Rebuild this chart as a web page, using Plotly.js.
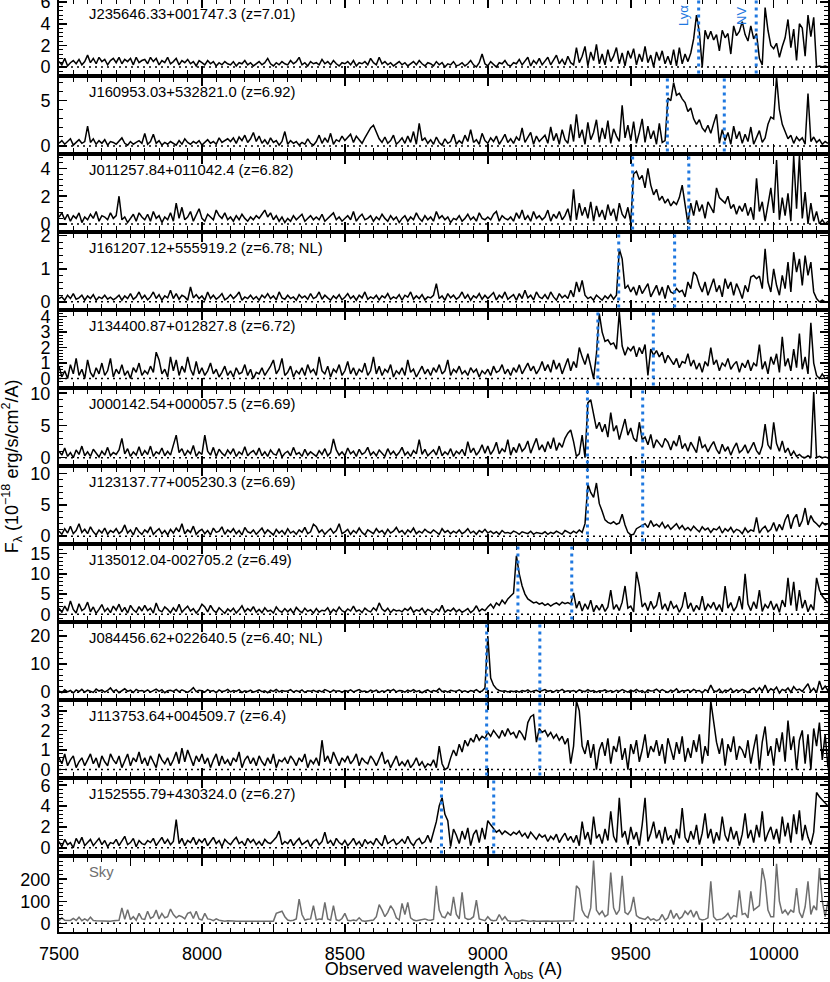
<!DOCTYPE html>
<html>
<head>
<meta charset="utf-8">
<script src="https://cdn.plot.ly/plotly-3.0.1.min.js"></script>
<style>
  body { margin: 0; background: white; }
  #chart { width: 830px; height: 982px; }
</style>
</head>
<body>
<div id="chart"></div>
<script>
// wavelength grid: 7500..10190 A, 10 A bins
const lamStart = 7500;
const lamStep = 10;

const labels = [
  "J235646.33+001747.3 (z=7.01)",
  "J160953.03+532821.0 (z=6.92)",
  "J011257.84+011042.4 (z=6.82)",
  "J161207.12+555919.2 (z=6.78; NL)",
  "J134400.87+012827.8 (z=6.72)",
  "J000142.54+000057.5 (z=6.69)",
  "J123137.77+005230.3 (z=6.69)",
  "J135012.04-002705.2 (z=6.49)",
  "J084456.62+022640.5 (z=6.40; NL)",
  "J113753.64+004509.7 (z=6.4)",
  "J152555.79+430324.0 (z=6.27)"
];
const redshifts = [7.01, 6.92, 6.82, 6.78, 6.72, 6.69, 6.69, 6.49, 6.40, 6.40, 6.27];
const xTickVals = [7500, 7750, 8000, 8250, 8500, 8750, 9000, 9250, 9500, 9750, 10000];
const xTickText = ["7500", "", "8000", "", "8500", "", "9000", "", "9500", "", "10000"];

// fluxes, 10^-18 erg/s/cm2/A, one row = 100 A
const flux1 = [
  0.5,0.2,0.8,0.1,0.4,0.6,0.3,0.7,0.2,0.5,
  1.1,0.4,0.8,0.3,0.9,0.5,0.7,0.2,0.6,0.8,
  0.4,0.9,0.3,0.7,0.5,0.8,0.2,0.9,0.4,0.6,
  0.7,0.3,0.9,0.5,0.8,0.2,0.6,0.4,0.9,0.3,
  0.5,0.8,0.2,0.6,0.4,0.7,0.3,0.5,0.1,0.6,
  0.4,0.2,0.6,0.3,0.5,0.1,0.4,0.2,0.5,0.3,
  0.2,0.5,0.1,0.4,0.3,0.6,0.2,0.4,0.1,0.3,
  0.5,0.2,0.4,0.8,0.3,0.1,0.4,0.2,0.5,0.3,
  0.2,0.6,0.3,0.5,0.9,0.2,0.4,0.1,0.5,0.3,
  0.4,0.2,0.7,0.3,0.5,0.2,0.6,0.3,0.1,0.4,
  0.3,0.5,0.2,0.6,0.1,0.4,0.3,0.5,0.2,0.8,
  0.4,0.2,0.9,0.3,0.5,0.2,0.4,0.1,0.3,0.5,
  0.2,0.4,0.1,0.3,0.5,0.2,0.6,0.3,0.1,0.4,
  0.3,0.1,0.5,0.2,0.4,0.0,0.3,0.2,0.5,0.1,
  0.2,0.4,0.1,0.3,0.6,0.2,0.0,0.4,1.2,0.3,
  0.1,0.5,0.2,0.0,0.4,0.3,0.6,0.2,0.1,0.4,
  0.3,0.7,0.2,0.5,0.9,0.1,0.6,0.3,0.8,0.2,
  0.5,0.9,0.2,0.6,1.1,0.3,0.7,0.2,1.0,0.4,
  0.2,1.8,0.4,1.0,1.9,0.1,1.4,0.6,2.1,0.3,
  1.2,0.2,1.6,0.5,1.0,1.8,0.3,1.3,0.1,1.5,
  0.8,1.7,0.2,1.2,0.5,1.9,0.4,1.1,0.0,1.4,
  0.6,1.5,0.3,1.0,0.2,1.6,0.1,1.8,0.3,1.2,
  0.5,1.3,2.6,4.8,3.2,0.0,3.4,2.6,3.3,2.5,
  3.0,1.5,3.4,2.7,3.1,1.2,3.8,2.9,3.3,4.2,
  3.0,2.4,3.8,2.6,3.1,0.8,0.2,5.5,3.4,2.0,
  1.7,2.2,0.9,1.9,2.7,4.4,1.8,3.5,0.6,4.0,
  3.6,1.0,4.8,2.8,4.6,0.0,0.1,0.0,0.1,0.0
];
const flux2 = [
  0.3,0.6,0.2,0.5,0.8,0.1,0.4,0.7,0.3,0.5,
  2.2,0.4,0.8,0.2,0.6,0.3,0.7,0.1,0.5,0.4,
  0.2,0.6,0.9,0.3,0.1,0.5,0.2,0.4,0.6,0.3,
  1.4,0.2,0.5,1.3,0.3,0.6,0.1,0.4,0.2,0.5,
  0.3,0.1,0.6,0.2,0.8,0.4,0.2,0.5,0.3,0.6,
  0.1,0.4,0.7,0.3,0.5,0.2,0.9,0.4,0.6,0.8,
  0.5,0.9,0.3,1.0,0.6,1.2,0.4,0.8,1.5,0.5,
  1.1,0.3,0.7,0.2,0.9,0.4,0.6,0.1,0.5,1.6,
  0.2,0.6,0.3,0.5,0.1,0.4,0.2,0.8,0.3,0.1,
  0.5,1.2,0.3,0.9,0.4,1.4,0.2,0.7,0.5,1.1,
  0.6,0.9,1.3,0.4,1.1,0.7,0.3,0.9,1.4,2.0,
  2.3,1.5,0.8,0.4,1.0,0.3,0.6,1.2,0.2,0.5,
  0.9,0.3,1.1,0.4,1.6,0.2,2.5,0.6,0.9,0.3,
  0.7,0.2,1.0,0.4,0.1,0.8,0.3,0.5,1.3,0.2,
  0.6,0.3,1.2,0.5,1.8,0.4,0.7,0.2,1.4,0.6,
  0.3,0.9,0.5,1.1,0.2,0.7,1.3,0.4,0.8,0.3,
  1.0,0.6,2.0,0.4,0.9,1.5,0.2,1.1,0.5,0.8,
  1.2,0.3,2.1,0.6,1.4,0.2,1.8,0.7,0.3,2.4,
  0.5,3.5,0.9,1.8,0.2,2.6,0.7,1.5,2.9,0.4,
  2.0,0.8,2.8,0.3,1.9,1.1,0.5,4.5,0.9,2.3,
  0.6,2.7,0.3,1.5,3.0,0.4,2.2,0.8,1.7,0.2,
  2.5,0.4,0.6,5.3,5.0,7.0,5.6,5.8,5.2,4.8,
  3.8,4.2,3.0,2.4,2.9,2.0,1.6,2.3,1.4,2.5,
  3.5,0.3,1.8,0.6,1.5,0.2,2.2,0.8,1.6,0.3,
  1.3,0.5,2.1,0.2,1.0,1.7,0.4,0.9,2.4,3.2,
  3.0,7.6,4.0,2.4,1.6,0.8,1.2,0.3,1.0,0.6,
  0.9,0.2,5.8,0.5,1.0,0.4,0.7,0.2,0.5,0.3
];
const flux3 = [
  0.5,0.8,0.3,0.7,0.2,0.6,0.4,0.8,0.1,0.5,
  0.3,0.7,0.4,0.9,0.2,0.6,0.5,0.3,0.8,0.4,
  0.6,2.0,0.3,0.5,0.1,0.4,0.7,0.2,0.8,0.5,
  0.3,0.7,0.2,0.9,0.4,0.6,0.1,0.5,0.3,0.8,
  0.2,1.5,0.4,1.2,0.3,0.5,0.9,0.2,0.6,1.1,
  0.4,0.2,0.7,0.5,0.3,1.0,0.6,0.4,0.8,0.3,
  0.5,0.2,0.6,0.3,0.7,0.4,0.2,0.5,0.3,0.6,
  0.4,0.7,1.0,0.5,0.8,0.3,0.6,0.2,0.5,0.1,
  0.4,0.2,0.6,0.3,0.5,0.7,0.2,0.4,0.6,0.3,
  0.5,0.3,0.7,0.2,0.4,0.6,0.8,0.3,0.5,0.2,
  0.4,0.6,0.3,0.9,0.2,0.5,0.7,0.3,0.4,0.6,
  0.2,0.5,0.3,0.7,0.4,0.2,0.6,0.3,0.5,0.1,
  0.4,0.6,0.2,0.5,0.3,0.8,0.4,0.2,0.6,0.3,
  0.5,0.2,0.9,0.4,0.6,0.3,0.5,0.1,0.4,0.3,
  0.6,0.2,0.4,0.7,0.3,0.5,0.2,0.8,0.4,0.3,
  0.5,0.3,0.7,0.9,0.2,0.6,0.4,0.3,0.5,0.2,
  0.8,0.4,1.0,0.3,0.6,0.2,0.9,0.4,0.6,0.3,
  0.5,1.0,0.2,0.7,0.4,0.9,0.3,0.6,1.1,0.2,
  2.5,0.3,1.5,0.6,1.2,0.4,1.6,0.2,1.3,0.5,
  1.0,0.3,1.4,0.6,1.1,0.2,1.5,0.7,0.4,1.2,
  0.1,3.6,3.8,3.2,3.5,2.6,4.0,2.8,2.1,2.5,
  1.7,2.0,1.5,1.8,1.3,1.6,1.4,1.9,2.8,1.2,
  0.0,1.5,0.6,1.7,0.9,1.4,0.4,1.6,1.2,0.8,
  2.6,1.9,1.7,1.5,2.0,1.1,1.4,0.7,1.3,0.9,
  1.5,0.6,1.2,0.3,3.3,0.9,1.6,0.2,1.4,2.6,
  0.8,4.6,0.3,1.9,0.6,2.2,0.2,4.9,1.1,4.9,
  0.4,2.3,0.0,1.5,0.2,0.9,0.0,0.3,0.0,0.2
];
const flux4 = [
  0.1,0.15,0.05,0.2,0.1,0.25,0.08,0.12,0.2,0.05,
  0.18,0.1,0.22,0.05,0.15,0.1,0.2,0.08,0.14,0.06,
  0.12,0.2,0.05,0.18,0.1,0.25,0.08,0.15,0.3,0.1,
  0.2,0.06,0.15,0.3,0.1,0.22,0.05,0.18,0.12,0.35,
  0.1,0.25,0.08,0.2,0.15,0.05,0.45,0.12,0.22,0.1,
  0.18,0.05,0.3,0.1,0.2,0.08,0.15,0.25,0.06,0.12,
  0.22,0.1,0.18,0.3,0.05,0.15,0.1,0.2,0.08,0.16,
  0.05,0.2,0.12,0.25,0.1,0.18,0.06,0.3,0.12,0.08,
  0.2,0.1,0.15,0.05,0.22,0.12,0.18,0.08,0.25,0.1,
  0.15,0.3,0.08,0.2,0.12,0.05,0.18,0.1,0.22,0.06,
  0.14,0.25,0.1,0.18,0.05,0.2,0.12,0.3,0.08,0.15,
  0.1,0.2,0.06,0.18,0.12,0.25,0.08,0.15,0.1,0.22,
  0.05,0.2,0.14,0.3,0.08,0.18,0.1,0.22,0.06,0.15,
  0.12,0.2,0.55,0.1,0.18,0.05,0.25,0.12,0.2,0.08,
  0.15,0.3,0.1,0.22,0.05,0.18,0.12,0.25,0.08,0.2,
  0.1,0.18,0.28,0.06,0.2,0.12,0.3,0.08,0.15,0.22,
  0.05,0.25,0.1,0.35,0.12,0.2,0.06,0.3,0.15,0.1,
  0.22,0.08,0.3,0.15,0.05,0.25,0.12,0.2,0.1,0.35,
  0.15,0.6,0.3,0.65,0.2,0.1,0.15,0.05,0.2,0.12,
  0.05,0.18,0.1,0.22,0.08,0.2,1.6,1.3,0.4,0.5,
  0.3,0.45,0.2,0.5,0.25,0.4,0.55,0.15,0.35,0.5,
  0.2,0.45,0.1,0.5,0.3,0.25,0.4,0.3,0.35,0.15,
  0.6,0.4,0.9,0.8,0.5,0.3,0.6,0.2,0.45,0.7,
  0.3,0.5,0.15,0.7,0.4,0.6,0.2,0.55,0.35,0.1,
  0.5,0.3,0.75,0.8,0.7,0.78,0.4,1.6,0.6,0.3,
  1.0,0.5,0.2,0.8,0.4,1.2,0.3,1.5,0.9,1.3,
  0.5,1.4,0.8,1.2,0.3,0.1,0.0,0.05,0.0,0.0
];
const flux5 = [
  0.8,0.1,0.5,0.0,0.9,0.3,1.3,0.2,0.6,0.0,
  1.2,0.4,0.1,0.7,0.3,1.0,0.2,0.5,1.3,0.1,
  0.6,0.3,0.9,0.2,0.5,0.0,0.7,0.4,1.0,0.2,
  0.5,0.3,0.8,0.4,1.7,1.2,0.3,0.6,0.1,1.4,
  0.5,1.2,0.2,0.8,0.4,1.4,0.6,0.2,1.1,0.3,
  0.7,0.2,0.5,1.0,0.3,0.6,0.1,0.4,0.8,0.2,
  0.5,0.1,0.7,0.3,0.4,0.9,0.2,0.6,0.0,0.4,
  0.3,0.7,0.2,0.5,0.8,1.2,0.3,0.6,1.3,0.2,
  0.4,0.8,0.1,0.5,0.3,0.7,0.2,0.9,0.4,0.6,
  0.2,1.4,0.5,0.3,0.8,0.1,0.6,0.4,0.9,0.2,
  0.5,1.1,0.3,0.7,0.2,0.6,0.4,1.0,0.2,0.5,
  1.4,0.3,0.8,0.2,0.6,0.4,0.9,0.1,0.5,0.3,
  0.7,0.2,1.2,0.4,0.6,0.1,0.5,0.8,0.3,0.6,
  0.2,0.7,0.4,0.9,0.3,0.5,1.2,0.2,0.6,0.4,
  0.8,0.3,0.5,0.2,0.7,0.4,0.6,0.1,0.5,0.3,
  0.6,0.2,0.8,0.4,0.5,0.9,0.3,0.6,0.2,0.7,
  0.4,0.9,0.3,0.7,1.0,0.5,0.8,0.3,0.6,1.1,
  0.5,0.9,0.4,1.2,0.6,1.0,0.3,0.8,1.3,0.5,
  1.1,0.7,2.0,1.4,0.9,1.6,0.8,0.0,1.6,4.2,
  3.0,2.4,2.5,2.2,2.3,1.9,4.3,2.1,1.5,2.0,
  1.8,2.1,1.4,2.0,1.6,2.2,0.2,1.9,1.5,1.8,
  1.4,1.7,1.0,1.5,1.2,0.9,1.3,0.7,1.1,1.0,
  1.6,0.8,1.2,0.6,1.0,0.4,1.1,0.8,2.0,0.9,
  1.2,0.5,1.0,0.8,1.3,0.6,0.9,1.1,0.4,1.0,
  0.7,1.2,0.5,1.0,0.8,2.2,0.6,1.1,0.3,1.4,
  0.9,1.6,0.4,2.7,0.8,1.3,0.5,1.9,0.7,2.9,
  0.6,1.4,0.3,3.6,1.0,0.2,0.0,0.3,0.0,0.1
];
const flux6 = [
  1.0,0.4,1.5,0.2,0.8,0.0,1.2,0.5,1.8,0.3,
  0.9,0.2,1.3,0.6,0.1,1.0,0.4,1.6,0.3,0.8,
  0.5,1.2,3.0,0.6,1.4,0.2,0.9,0.4,1.7,0.3,
  1.1,0.5,1.8,0.2,0.9,0.6,1.5,0.3,1.0,0.4,
  2.0,3.5,0.8,1.4,0.3,1.1,0.6,1.9,0.2,0.9,
  0.5,3.5,1.0,0.4,1.6,0.2,1.3,0.7,0.3,1.2,
  0.6,1.4,0.2,0.9,0.5,1.7,0.3,0.8,1.1,0.4,
  1.5,0.3,0.9,0.2,1.2,0.6,0.4,1.4,0.1,0.7,
  1.0,0.3,1.6,0.5,0.8,0.2,1.3,0.4,0.9,0.6,
  0.2,1.1,0.5,1.4,0.3,0.8,2.9,1.2,0.4,0.9,
  0.3,1.5,0.6,1.0,0.2,1.3,0.5,0.8,1.6,0.4,
  0.9,0.3,1.2,0.7,0.2,1.4,0.5,1.0,0.3,0.8,
  1.6,0.4,0.9,0.2,1.1,0.6,2.8,0.5,1.3,0.3,
  0.7,1.2,0.4,1.8,0.3,0.9,0.5,1.4,0.2,1.0,
  0.6,1.3,0.3,2.5,0.8,1.5,0.4,1.0,2.0,0.7,
  1.8,0.5,1.2,2.4,0.6,1.4,0.9,2.8,0.4,1.6,
  0.8,2.2,1.0,1.5,2.6,0.7,1.9,3.0,1.2,2.0,
  0.9,2.5,1.4,3.1,1.1,2.3,1.6,3.0,3.8,4.3,
  2.5,0.2,0.6,3.5,0.0,8.5,9.0,6.5,4.5,5.5,
  4.0,5.2,3.2,7.0,4.1,5.0,2.8,4.4,6.0,3.5,
  4.6,3.0,2.5,5.5,2.8,3.2,2.0,3.6,1.5,2.8,
  2.2,1.6,3.0,2.4,1.2,2.6,1.8,3.5,1.4,2.2,
  1.0,2.4,1.6,0.8,3.3,1.5,2.0,0.9,1.8,2.5,
  1.3,0.6,2.1,1.0,1.7,0.4,1.5,2.3,0.8,1.2,
  2.0,0.7,1.5,2.4,1.1,0.5,1.8,5.2,2.0,1.3,
  5.5,2.2,1.0,2.6,0.8,1.5,0.3,1.0,0.2,0.5,
  0.1,0.0,0.3,0.0,10.2,0.0,0.2,0.0,0.1,0.0
];
const flux7 = [
  0.8,0.3,1.2,0.5,1.6,0.4,0.9,2.0,0.6,1.1,
  0.4,1.5,0.7,0.2,1.0,0.5,1.3,0.3,0.9,0.6,
  1.2,0.4,0.8,1.8,0.5,1.0,0.2,1.4,0.7,0.3,
  1.0,0.6,1.5,0.3,0.8,1.2,0.4,0.9,0.2,1.1,
  0.5,1.3,0.7,2.0,0.4,1.0,0.6,1.6,0.3,0.8,
  1.1,0.4,0.9,0.2,1.3,0.6,0.8,1.5,0.3,1.0,
  0.6,1.2,0.4,0.9,0.2,1.4,0.7,0.5,1.0,0.3,
  0.8,1.3,0.4,1.0,0.6,0.2,1.1,0.5,0.9,0.3,
  1.2,0.5,0.8,0.3,1.0,0.6,1.4,0.4,0.7,1.9,
  1.5,0.6,1.0,0.3,0.8,1.2,0.5,0.9,2.0,0.4,
  0.7,1.1,0.3,0.9,0.5,1.3,0.6,0.2,1.0,0.7,
  0.4,1.2,0.6,0.9,0.3,1.1,0.5,0.8,1.4,0.6,
  0.9,0.3,1.0,0.6,1.3,0.4,0.8,0.5,1.1,0.7,
  0.5,1.0,0.7,0.3,1.2,0.6,0.9,0.4,0.8,0.5,
  1.0,0.4,0.7,1.2,0.5,0.8,0.3,0.9,0.6,1.1,
  0.5,0.8,0.4,0.7,0.3,0.9,0.5,0.6,0.4,0.8,
  0.6,0.3,0.7,0.5,0.4,0.8,0.3,0.6,0.5,0.4,
  0.7,0.3,0.6,0.4,0.8,0.5,0.3,0.9,0.6,0.4,
  0.8,0.5,1.0,0.6,2.0,8.3,7.0,6.2,8.5,5.2,
  4.0,2.6,2.2,2.0,2.3,1.9,2.1,3.5,1.8,0.6,
  0.2,0.3,1.2,1.5,1.7,2.0,1.4,2.5,1.6,1.9,
  1.5,2.2,1.3,1.8,1.1,1.6,2.0,1.2,1.7,1.0,
  1.4,0.9,1.6,1.1,0.7,1.5,1.0,1.3,0.6,1.2,
  1.0,1.5,0.5,1.2,0.8,1.4,0.6,1.1,0.9,0.4,
  1.3,0.6,1.0,0.8,3.0,0.5,1.2,1.6,0.7,1.1,
  2.2,0.8,1.9,1.0,2.6,3.5,1.2,2.8,3.5,1.5,
  2.5,4.5,1.8,3.3,2.4,2.0,1.5,2.2,1.8,2.0
];
const flux8 = [
  1.5,0.5,2.0,0.8,3.3,1.2,0.3,2.6,0.9,1.4,
  3.0,0.6,1.8,0.2,1.2,2.4,0.7,1.5,0.4,2.0,
  1.0,2.5,0.6,1.7,0.3,2.2,1.1,0.5,1.9,0.8,
  2.2,0.9,1.5,0.3,2.8,1.0,0.6,1.8,1.2,0.4,
  1.6,0.7,2.5,0.5,1.3,2.0,0.8,1.4,0.3,1.1,
  2.5,1.8,0.6,2.2,1.0,0.4,1.6,0.9,0.2,1.3,
  0.7,1.5,0.3,1.1,2.1,0.6,1.4,0.8,1.9,0.5,
  1.2,0.4,1.6,0.7,1.0,0.3,1.8,0.9,0.5,1.4,
  0.6,1.3,0.2,1.7,0.9,0.4,1.5,0.7,1.1,0.3,
  1.4,0.5,1.0,0.8,1.6,0.3,1.2,0.6,1.8,0.9,
  0.5,1.3,0.8,2.0,0.7,1.1,0.4,1.5,0.9,0.6,
  1.6,0.9,2.8,1.3,0.7,1.5,0.4,1.2,0.8,1.0,
  0.6,1.4,0.9,1.7,0.5,1.1,0.8,1.5,0.3,1.2,
  0.9,0.4,1.3,0.7,2.2,0.5,1.1,0.8,1.5,0.6,
  1.2,0.5,0.9,1.4,0.4,1.0,2.1,0.7,1.3,0.9,
  1.8,2.5,1.5,2.8,2.2,3.5,2.6,3.8,4.5,5.2,
  14.5,10.0,7.0,5.0,3.8,3.2,2.8,3.0,2.5,2.8,
  2.2,2.6,2.0,2.5,2.8,2.3,3.0,2.6,2.9,2.5,
  5.3,1.5,3.2,0.8,2.6,1.2,3.5,0.6,2.2,1.0,
  2.5,0.7,1.8,6.0,1.2,2.4,0.9,3.0,7.0,1.5,
  2.0,0.6,10.5,7.0,1.8,2.8,0.9,3.2,1.4,2.2,
  5.5,1.2,2.6,0.8,3.3,1.5,2.2,0.5,1.9,5.5,
  1.4,2.8,0.7,2.2,1.1,4.5,0.9,2.5,1.6,3.0,
  1.0,2.4,0.6,7.0,1.5,2.9,0.8,1.9,4.5,1.2,
  10.0,2.5,0.9,3.1,1.4,6.0,0.7,2.4,1.5,3.3,
  1.1,2.6,0.5,3.5,1.8,9.0,2.2,8.0,0.8,6.0,
  1.5,3.5,0.6,2.4,1.0,9.0,6.0,4.5,3.5,2.8
];
const flux9 = [
  0.5,-0.2,0.9,0.1,0.6,-0.3,0.8,0.2,1.0,0.0,
  0.7,0.3,-0.1,1.1,0.4,0.8,0.0,0.6,1.5,0.2,
  0.9,-0.2,0.5,1.2,0.3,0.7,-0.1,1.0,0.4,0.6,
  0.2,0.8,0.0,0.6,1.1,0.3,0.9,-0.2,0.5,0.7,
  0.3,1.0,0.1,0.8,0.4,-0.1,0.6,1.6,0.2,0.7,
  0.5,0.0,0.9,0.3,0.6,-0.2,0.8,0.2,0.4,1.0,
  0.1,0.6,0.3,0.9,-0.1,0.5,0.2,0.7,0.0,0.4,
  0.8,0.2,0.5,-0.2,0.7,0.3,1.0,0.1,0.6,0.3,
  0.4,0.9,0.0,0.6,0.2,0.8,-0.1,0.5,0.3,0.7,
  0.2,0.6,0.1,0.9,0.4,0.0,0.7,0.3,0.5,-0.1,
  0.6,0.3,0.8,0.1,0.5,0.9,0.2,0.4,0.0,0.7,
  0.3,0.7,-0.1,0.5,0.2,0.8,0.4,1.0,0.1,0.6,
  0.5,0.0,0.7,0.3,0.9,0.2,0.6,-0.2,0.4,0.8,
  0.1,0.6,0.3,1.3,0.2,0.5,0.0,0.7,0.4,0.3,
  0.8,0.2,0.5,0.0,0.6,0.3,0.9,0.1,0.4,1.5,
  20.0,5.0,2.5,1.2,0.6,0.3,0.5,0.1,0.4,0.2,
  0.5,0.0,0.6,0.3,0.8,0.1,0.4,0.7,0.2,0.5,
  0.9,0.3,0.6,0.0,0.7,0.4,1.0,0.2,0.5,0.3,
  0.6,0.1,0.8,0.4,0.2,0.9,0.3,0.6,0.0,0.5,
  0.4,0.8,0.2,0.6,0.1,0.7,0.3,0.9,0.4,0.0,
  0.7,0.3,1.0,0.2,0.6,-0.2,0.8,0.4,0.5,1.1,
  0.2,0.9,0.4,-0.1,0.7,0.3,1.2,0.0,0.6,0.4,
  0.8,0.1,1.0,0.4,0.6,-0.3,0.9,0.3,2.5,0.5,
  0.2,1.1,-0.2,0.7,0.4,1.3,0.0,0.8,0.3,1.0,
  0.5,-0.1,0.9,1.4,0.2,1.6,0.4,2.5,0.1,1.2,
  0.6,1.8,-0.3,1.0,0.5,1.5,0.0,2.0,0.7,1.1,
  0.3,1.6,3.0,0.2,1.4,-0.2,4.0,0.8,2.2,0.5
];
const flux10 = [
  0.6,0.3,0.8,0.2,0.5,0.7,0.1,0.4,0.6,0.2,
  0.5,0.8,0.3,0.6,0.1,0.7,0.4,0.2,0.8,0.5,
  0.3,0.7,0.1,0.5,0.8,0.2,0.6,0.4,0.9,0.3,
  0.6,0.2,0.7,0.4,0.1,0.8,0.5,0.3,0.6,0.2,
  0.5,0.9,0.3,1.1,0.4,1.0,0.6,0.2,0.7,0.4,
  0.8,0.3,0.6,0.1,0.5,0.8,0.2,0.7,0.3,0.5,
  0.2,0.6,0.4,0.9,0.1,0.5,0.7,0.3,0.6,0.2,
  0.7,0.4,0.2,0.6,0.3,0.8,0.1,0.5,0.4,0.6,
  0.3,0.7,0.5,0.2,0.6,0.4,0.8,0.1,0.5,0.3,
  0.6,0.2,1.5,0.4,0.7,0.3,0.9,0.5,0.2,0.6,
  0.4,0.7,0.3,0.5,0.8,0.2,0.6,0.4,0.3,0.7,
  0.5,0.2,0.6,0.9,0.3,0.5,0.1,0.4,0.7,0.2,
  0.4,0.2,0.5,0.1,0.3,0.6,0.2,0.4,0.1,0.3,
  0.2,0.5,0.1,1.2,0.3,0.0,0.1,0.6,1.0,0.7,
  1.3,0.9,1.5,1.2,1.6,1.4,1.8,1.5,1.7,1.6,
  1.9,1.7,2.0,1.8,1.6,2.0,1.7,2.1,1.8,1.9,
  1.6,2.0,1.8,1.5,2.4,2.7,2.8,1.4,2.1,1.9,
  2.0,1.7,1.9,1.6,1.8,1.5,1.7,1.3,1.6,0.3,
  1.2,3.5,3.0,1.2,0.8,1.5,0.6,1.3,0.0,1.0,
  1.4,0.7,1.6,0.3,1.2,0.9,1.7,0.5,1.1,0.0,
  1.3,0.8,1.5,0.4,1.0,1.8,0.6,1.2,0.9,1.5,
  0.7,1.3,0.3,1.6,1.0,0.5,1.4,0.8,1.7,0.4,
  1.1,0.6,1.5,0.9,1.8,0.3,1.2,0.7,3.5,2.5,
  1.4,0.8,1.6,0.2,1.3,0.9,1.7,0.5,1.2,1.0,
  0.6,1.5,0.3,1.1,1.8,0.0,1.4,2.2,0.7,1.2,
  0.2,1.6,0.9,1.9,0.4,2.5,1.0,1.7,0.0,1.5,
  2.0,0.3,1.8,0.0,2.1,1.2,2.4,0.5,1.8,0.1
];
const flux11 = [
  0.6,0.1,0.8,0.3,0.5,0.0,0.9,0.4,1.0,0.2,
  0.5,0.8,0.2,0.6,0.9,0.3,0.7,0.1,0.5,0.4,
  0.8,0.2,0.6,1.1,0.3,0.5,0.9,0.1,0.7,0.4,
  0.3,0.7,0.5,0.9,0.2,0.6,1.0,0.4,0.8,0.3,
  0.6,2.7,0.4,0.9,0.2,0.7,0.5,1.0,0.3,0.8,
  0.5,0.9,0.2,0.6,1.0,0.4,0.7,0.1,0.8,0.5,
  0.3,0.7,1.0,0.4,0.6,0.2,0.9,0.5,0.8,0.3,
  0.6,0.2,0.8,0.5,0.4,0.7,1.0,1.6,0.3,0.6,
  0.4,0.8,0.2,0.6,0.9,0.3,0.5,0.7,0.1,0.6,
  0.8,0.3,0.6,1.5,0.4,0.7,0.2,0.9,0.5,0.3,
  0.7,0.2,0.5,0.9,0.3,0.6,0.1,0.8,0.4,0.6,
  0.3,0.9,0.5,0.2,1.2,0.4,0.6,0.8,0.3,0.5,
  0.8,0.4,1.1,0.5,0.2,0.7,0.9,0.4,0.6,1.2,
  0.5,1.4,2.5,4.0,4.8,3.2,2.6,0.1,1.8,1.2,
  0.4,1.6,0.8,1.9,0.2,1.3,1.7,0.5,1.9,0.8,
  2.6,2.2,1.8,1.5,1.7,1.3,1.6,1.4,1.2,1.5,
  1.3,1.6,1.1,1.4,0.9,1.5,1.2,0.8,1.3,1.0,
  1.2,0.6,1.1,0.8,1.3,0.5,1.0,1.4,0.7,1.1,
  0.5,1.2,0.2,2.5,0.8,1.5,0.3,3.0,0.9,1.3,
  0.4,1.8,0.7,3.5,1.1,0.5,4.8,1.0,1.6,0.3,
  2.0,0.8,1.5,0.2,2.2,4.8,0.6,1.4,2.5,0.9,
  1.7,0.4,2.0,0.7,1.2,0.3,1.8,0.9,3.8,1.0,
  0.5,1.6,0.8,2.2,0.3,1.4,3.3,0.9,1.8,0.4,
  1.5,0.7,3.0,1.2,0.6,2.0,0.8,1.6,0.2,1.3,
  3.3,0.9,1.7,0.5,2.2,1.0,3.5,0.6,1.4,2.0,
  0.8,1.8,0.4,3.0,1.1,2.4,0.5,3.2,1.3,3.6,
  0.7,2.2,1.0,0.3,1.5,5.3,4.9,4.6,4.3,4.0
];
// sky spectrum, arbitrary units
const sky = [
  12,25,14,12,13,22,13,28,12,20,
  12,28,13,12,11,12,10,11,10,12,
  12,14,70,18,62,16,30,14,45,20,
  18,55,22,30,60,20,45,25,30,65,
  40,25,35,30,20,45,50,22,55,20,
  15,45,20,18,12,20,14,12,10,12,
  10,11,10,10,11,10,10,11,10,10,
  10,10,11,10,10,10,45,50,55,30,
  15,12,14,20,110,40,15,18,20,80,
  15,20,18,95,20,14,80,16,12,22,
  45,14,12,15,12,25,12,10,11,12,
  15,30,85,60,30,50,80,60,25,15,
  90,40,95,25,15,12,14,18,20,15,
  14,18,170,60,30,25,50,35,120,40,
  20,140,25,18,20,30,105,20,15,12,
  30,15,12,14,40,15,30,12,11,10,
  12,10,15,12,11,10,12,10,11,10,
  10,11,10,10,12,10,11,10,12,10,
  12,170,155,60,35,25,70,285,60,40,
  55,30,40,230,70,40,60,215,50,40,
  60,120,35,25,20,18,30,15,20,12,
  18,40,15,25,60,22,45,20,30,55,
  40,60,28,55,20,15,18,25,190,30,
  15,18,20,30,45,20,35,30,150,40,
  45,25,145,60,70,80,250,190,60,30,
  30,270,100,45,60,40,60,50,160,50,
  25,75,190,40,80,60,250,100,30,100
];

const fluxes = [flux1, flux2, flux3, flux4, flux5, flux6, flux7, flux8, flux9, flux10, flux11];
const wave = sky.map((_, i) => lamStart + i * lamStep);

// per-panel y axis ranges and tick steps
const yRanges = [[-0.6, 6.2], [-0.6, 7.5], [-0.4, 4.9], [-0.17, 2.05], [-0.45, 4.3], [-0.9, 10.5],
                 [-0.85, 10.9], [-1.3, 16.9], [-1.9, 24.3], [-0.3, 3.45], [-0.55, 6.5], [-37, 296]];
const yDticks = [2, 5, 2, 1, 1, 5, 5, 5, 10, 1, 2, 100];

const FONT = "Liberation Sans, Arial, sans-serif";
const BLUE = "#1f78e0";
const nPanels = 12;
const H = 932, panelH = 73.5, pitch = 78;

const traces = [];
const shapes = [];
const annotations = [];
const layout = {
  width: 830, height: 982,
  margin: { l: 59, r: 2, t: 0, b: 50 },
  paper_bgcolor: "white", plot_bgcolor: "white",
  showlegend: false,
  font: { family: FONT, color: "black", size: 18 }
};

for (let i = 0; i < nPanels; i++) {
  const k = i + 1;
  const xn = k === 1 ? "x" : "x" + k;
  const yn = k === 1 ? "y" : "y" + k;
  const xa = k === 1 ? "xaxis" : "xaxis" + k;
  const ya = k === 1 ? "yaxis" : "yaxis" + k;
  const isSky = i === nPanels - 1;

  traces.push({
    x: wave, y: isSky ? sky : fluxes[i],
    xaxis: xn, yaxis: yn,
    type: "scatter", mode: "lines",
    line: { color: isSky ? "#6e6e6e" : "black", width: 1.5 },
    hoverinfo: "skip"
  });

  const top = i * pitch, bot = top + panelH;
  layout[xa] = {
    range: [7500, 10190], anchor: yn, domain: [0, 1],
    tickmode: "array", tickvals: xTickVals, ticktext: xTickText,
    ticks: "inside", ticklen: 8, tickwidth: 1.5, tickcolor: "black",
    minor: { ticks: "inside", ticklen: 4, tickwidth: 1, tickcolor: "black", dtick: 50, tick0: 7500 },
    showline: true, linewidth: 2, linecolor: "black", mirror: "allticks",
    showgrid: false, zeroline: false,
    showticklabels: isSky, tickfont: { size: 18 }
  };
  if (k > 1) layout[xa].matches = "x";
  if (isSky) {
    layout[xa].ticklabelstandoff = 5;
    layout[xa].title = { text: "Observed wavelength λ<sub>obs</sub> (A)", font: { size: 18 }, standoff: 0 };
  }

  layout[ya] = {
    range: yRanges[i], anchor: xn,
    domain: [1 - bot / H, 1 - top / H],
    tick0: 0, dtick: yDticks[i],
    ticks: "inside", ticklen: 8, tickwidth: 1.5, tickcolor: "black",
    minor: { ticks: "inside", ticklen: 4, tickwidth: 1, tickcolor: "black", dtick: yDticks[i] / 5 },
    showline: true, linewidth: 2, linecolor: "black", mirror: "allticks",
    showgrid: false, zeroline: false,
    tickfont: { size: 18 }, ticklabelstandoff: 3, ticklabeloverflow: "allow"
  };

  // dotted zero level
  shapes.push({
    type: "line", xref: xn + " domain", x0: 0, x1: 1, yref: yn, y0: 0, y1: 0,
    line: { color: "black", width: 1.5, dash: "2px,4px" }, layer: "below"
  });

  if (!isSky) {
    const z = redshifts[i];
    const lya = 1215.67 * (1 + z);
    const nv = 1240.81 * (1 + z);
    [lya, nv].forEach(w => shapes.push({
      type: "line", xref: xn, x0: w, x1: w, yref: yn + " domain", y0: 0, y1: 1,
      line: { color: BLUE, width: 3, dash: "3px,4px" }
    }));
    annotations.push({
      xref: xn, x: 7598, yref: yn + " domain", y: 1, yshift: -4,
      xanchor: "left", yanchor: "top", showarrow: false,
      text: labels[i], font: { size: 14.8, color: "black" }
    });
    if (i === 0) {
      annotations.push({
        xref: xn, x: lya - 20, yref: yn + " domain", y: 1, yshift: -3,
        xanchor: "right", yanchor: "top", showarrow: false, textangle: -90,
        text: "Lyα", font: { size: 13, color: BLUE }
      });
      annotations.push({
        xref: xn, x: nv - 20, yref: yn + " domain", y: 1, yshift: -5,
        xanchor: "right", yanchor: "top", showarrow: false, textangle: -90,
        text: "NV", font: { size: 13, color: BLUE }
      });
    }
  } else {
    annotations.push({
      xref: xn, x: 7598, yref: yn + " domain", y: 1, yshift: -4,
      xanchor: "left", yanchor: "top", showarrow: false,
      text: "Sky", font: { size: 14.8, color: "#6e6e6e" }
    });
  }
}

// shared y title
annotations.push({
  xref: "paper", x: -0.062, yref: "paper", y: 0.50,
  xanchor: "center", yanchor: "middle", showarrow: false, textangle: -90,
  text: "F<sub>λ</sub> (10<sup>−18</sup> erg/s/cm<sup>2</sup>/A)",
  font: { size: 18, color: "black" }
});

layout.shapes = shapes;
layout.annotations = annotations;

Plotly.newPlot("chart", traces, layout, { displayModeBar: false, staticPlot: true });
</script>
</body>
</html>
